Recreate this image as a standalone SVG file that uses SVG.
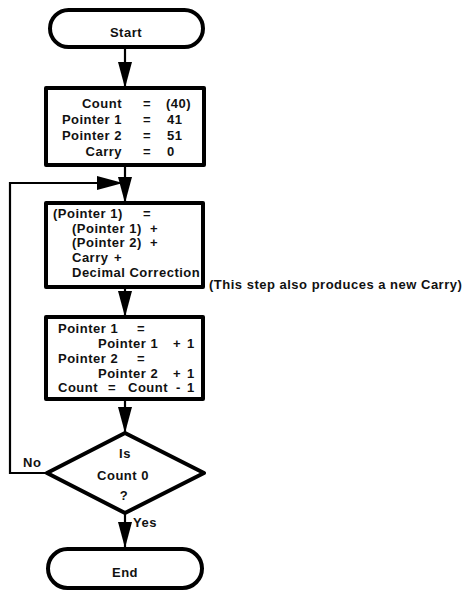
<svg xmlns="http://www.w3.org/2000/svg" width="463" height="591" viewBox="0 0 463 591">
<defs>
<marker id="ah" markerUnits="userSpaceOnUse" markerWidth="26" markerHeight="14" refX="26" refY="7" orient="auto">
<path d="M0,0 L26,7 L0,14 Z" fill="#000"/>
</marker>
<style>
.sh{fill:#fff;stroke:#000;stroke-width:4;stroke-linejoin:round}
.ln{fill:none;stroke:#000;stroke-width:2.2}
text{font-family:"Liberation Sans",Arial,sans-serif;font-weight:bold;font-size:13px;letter-spacing:0.5px;fill:#111}
.c{text-anchor:middle}
.e{text-anchor:end}
</style>
</defs>
<rect width="463" height="591" fill="#fff"/>
<g id="connectors">
<line class="ln" x1="125" y1="47" x2="125" y2="88" marker-end="url(#ah)"/>
<line class="ln" x1="125" y1="165" x2="125" y2="203" marker-end="url(#ah)"/>
<path class="ln" d="M47,473 H10 V183 H123" marker-end="url(#ah)"/>
<line class="ln" x1="125" y1="287" x2="125" y2="317" marker-end="url(#ah)"/>
<line class="ln" x1="125" y1="399" x2="125" y2="433" marker-end="url(#ah)"/>
<line class="ln" x1="125" y1="513" x2="125" y2="548" marker-end="url(#ah)"/>
<text x="23" y="467">No</text>
<text x="133" y="527">Yes</text>
</g>
<g id="start">
<rect class="sh" x="50" y="10" width="153" height="37" rx="18.5"/>
<text class="c" x="126" y="37">Start</text>
</g>
<g id="init">
<rect class="sh" x="46" y="88" width="158" height="77"/>
<text class="e" x="122" y="108">Count</text>
<text class="c" x="147" y="108">=</text>
<text x="166" y="108">(40)</text>
<text class="e" x="122" y="124">Pointer 1</text>
<text class="c" x="147" y="124">=</text>
<text x="167" y="124">41</text>
<text class="e" x="122" y="140">Pointer 2</text>
<text class="c" x="147" y="140">=</text>
<text x="167" y="140">51</text>
<text class="e" x="122" y="156">Carry</text>
<text class="c" x="147" y="156">=</text>
<text x="167" y="156">0</text>
</g>
<g id="add">
<rect class="sh" x="46" y="203" width="157" height="84"/>
<text x="53" y="218">(Pointer 1)</text>
<text x="143" y="218">=</text>
<text x="72" y="233">(Pointer 1)</text>
<text x="150" y="233">+</text>
<text x="72" y="247">(Pointer 2)</text>
<text x="150" y="247">+</text>
<text x="72" y="262">Carry</text>
<text x="114" y="262">+</text>
<text x="72" y="277">Decimal Correction</text>
</g>
<g id="note">
<text x="209" y="289">(This step also produces a new Carry)</text>
</g>
<g id="incr">
<rect class="sh" x="46" y="317" width="157" height="82"/>
<text x="58" y="333">Pointer 1</text>
<text x="137" y="333">=</text>
<text x="98" y="348">Pointer 1</text>
<text x="173" y="348">+</text>
<text x="187" y="348">1</text>
<text x="58" y="363">Pointer 2</text>
<text x="137" y="363">=</text>
<text x="98" y="378">Pointer 2</text>
<text x="173" y="378">+</text>
<text x="187" y="378">1</text>
<text x="58" y="392">Count</text>
<text x="108" y="392">=</text>
<text x="128" y="392">Count</text>
<text x="176" y="392">-</text>
<text x="187" y="392">1</text>
</g>
<g id="test">
<polygon class="sh" points="125,433 204,473 125,513 47,473"/>
<text class="c" x="125" y="458">Is</text>
<text class="c" x="123" y="480">Count 0</text>
<text class="c" x="124" y="500">?</text>
</g>
<g id="end">
<rect class="sh" x="48" y="549" width="154" height="39" rx="19.5"/>
<text class="c" x="125" y="577">End</text>
</g>
</svg>
